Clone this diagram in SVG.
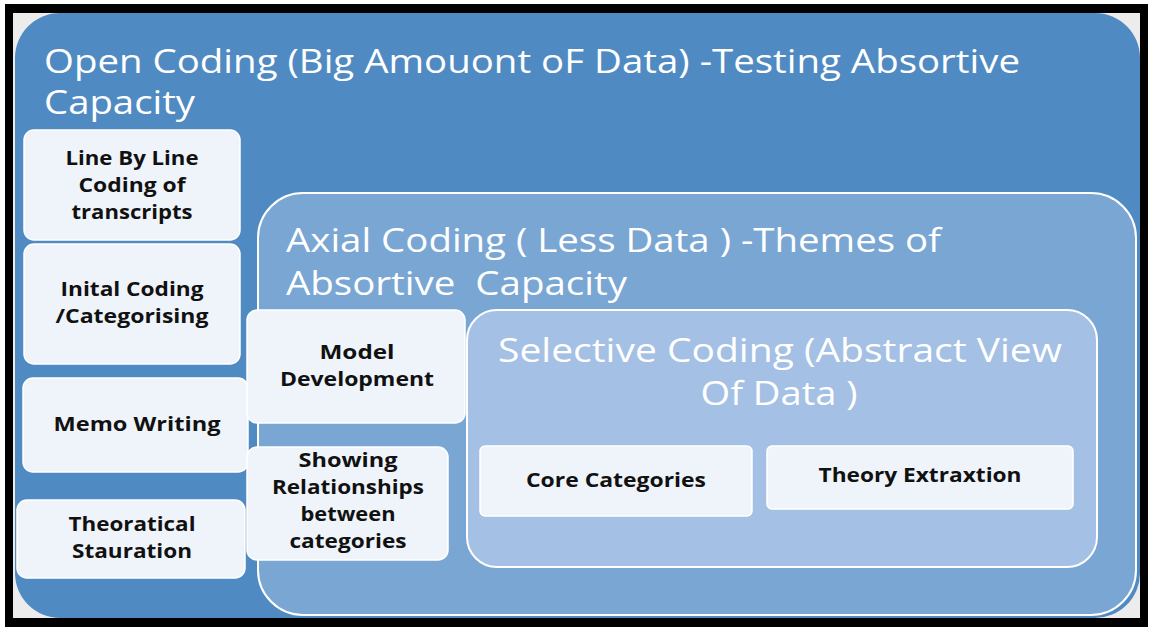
<svg xmlns="http://www.w3.org/2000/svg" width="1152" height="630" viewBox="0 0 1152 630">
  <style>
    .title { font-family: "Open Sans", "Liberation Sans", sans-serif; fill: #ffffff; font-size: 33px; }
    .lbl { font-family: "Open Sans", "Liberation Sans", sans-serif; font-weight: bold; fill: #111111; font-size: 20px; text-anchor: middle; }
    .card { fill: #eff4fa; stroke: #ffffff; stroke-width: 1.5; }
  </style>
  <rect x="0" y="0" width="1152" height="630" fill="#ffffff"/>
  <rect x="5" y="4" width="1143" height="623" fill="#000000"/>
  <rect x="13" y="13" width="1127" height="605" fill="#ececec"/>

  <g id="open-coding">
    <rect x="15" y="13" width="1125" height="605" rx="45" fill="#508ac2"/>
    <text class="title" x="44" y="73" textLength="976" lengthAdjust="spacingAndGlyphs">Open Coding (Big Amouont oF Data) -Testing Absortive</text>
    <text class="title" x="44" y="114" textLength="151" lengthAdjust="spacingAndGlyphs">Capacity</text>
  </g>

  <g id="axial-coding">
    <rect x="258" y="193" width="878" height="422" rx="45" fill="#7aa6d4" stroke="#ffffff" stroke-width="2"/>
    <text class="title" x="286" y="252" textLength="655" lengthAdjust="spacingAndGlyphs">Axial Coding ( Less Data ) -Themes of</text>
    <text class="title" x="286" y="295" textLength="341" lengthAdjust="spacingAndGlyphs">Absortive&#160; Capacity</text>
  </g>

  <g id="selective-coding">
    <rect x="467" y="310" width="630" height="257" rx="30" fill="#a4c0e4" stroke="#ffffff" stroke-width="2"/>
    <text class="title" x="780" y="362" text-anchor="middle" textLength="564" lengthAdjust="spacingAndGlyphs">Selective Coding (Abstract View</text>
    <text class="title" x="779" y="405" text-anchor="middle" textLength="157" lengthAdjust="spacingAndGlyphs">Of Data )</text>
  </g>

  <g id="line-by-line">
    <rect class="card" x="24" y="130" width="216" height="110" rx="10"/>
    <text class="lbl" x="132" y="165" textLength="133" lengthAdjust="spacingAndGlyphs">Line By Line</text>
    <text class="lbl" x="132" y="192" textLength="107" lengthAdjust="spacingAndGlyphs">Coding of</text>
    <text class="lbl" x="132" y="219" textLength="121" lengthAdjust="spacingAndGlyphs">transcripts</text>
  </g>

  <g id="initial-coding">
    <rect class="card" x="24" y="244" width="216" height="120" rx="10"/>
    <text class="lbl" x="132" y="296" textLength="143" lengthAdjust="spacingAndGlyphs">Inital Coding</text>
    <text class="lbl" x="132" y="323" textLength="153" lengthAdjust="spacingAndGlyphs">/Categorising</text>
  </g>

  <g id="memo-writing">
    <rect class="card" x="23" y="378" width="225" height="94" rx="10"/>
    <text class="lbl" x="137" y="431" textLength="167" lengthAdjust="spacingAndGlyphs">Memo Writing</text>
  </g>

  <g id="theoretical-saturation">
    <rect class="card" x="17" y="500" width="228" height="78" rx="10"/>
    <text class="lbl" x="132" y="531" textLength="127" lengthAdjust="spacingAndGlyphs">Theoratical</text>
    <text class="lbl" x="132" y="558" textLength="120" lengthAdjust="spacingAndGlyphs">Stauration</text>
  </g>

  <g id="model-development">
    <rect class="card" x="247" y="310" width="218" height="113" rx="10"/>
    <text class="lbl" x="357" y="359" textLength="75" lengthAdjust="spacingAndGlyphs">Model</text>
    <text class="lbl" x="357" y="386" textLength="154" lengthAdjust="spacingAndGlyphs">Development</text>
  </g>

  <g id="showing-relationships">
    <rect class="card" x="247" y="447" width="201" height="113" rx="10"/>
    <text class="lbl" x="348" y="467" textLength="99" lengthAdjust="spacingAndGlyphs">Showing</text>
    <text class="lbl" x="348" y="494" textLength="152" lengthAdjust="spacingAndGlyphs">Relationships</text>
    <text class="lbl" x="348" y="521" textLength="95" lengthAdjust="spacingAndGlyphs">between</text>
    <text class="lbl" x="348" y="548" textLength="117" lengthAdjust="spacingAndGlyphs">categories</text>
  </g>

  <g id="core-categories">
    <rect class="card" x="480" y="446" width="272" height="70" rx="5"/>
    <text class="lbl" x="616" y="487" textLength="180" lengthAdjust="spacingAndGlyphs">Core Categories</text>
  </g>

  <g id="theory-extraction">
    <rect class="card" x="767" y="446" width="306" height="63" rx="5"/>
    <text class="lbl" x="920" y="482" textLength="203" lengthAdjust="spacingAndGlyphs">Theory Extraxtion</text>
  </g>

  <g id="connectors"/>
</svg>
